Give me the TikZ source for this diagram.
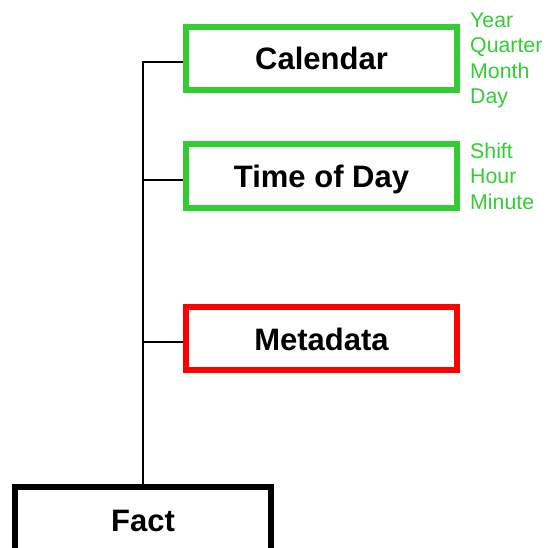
\documentclass[tikz,border=0pt]{standalone}
\usepackage{fontspec}
\setmainfont{Liberation Sans}
\definecolor{dimgreen}{RGB}{50,205,50}
\tikzset{
  boxlabel/.style={font=\fontsize{31}{34}\selectfont\bfseries, text height=23pt, text depth=0pt},
  dimbox/.style={draw=dimgreen, line width=6pt, rectangle, inner sep=0pt,
    minimum width=271pt, minimum height=63pt, boxlabel},
  metabox/.style={dimbox, draw=red},
  factbox/.style={draw=black, line width=5.5pt, rectangle, inner sep=0pt,
    minimum width=256pt, minimum height=66pt, boxlabel},
  attrlist/.style={anchor=north west, inner sep=0pt, text=dimgreen, align=left,
    font=\fontsize{21.3}{25.5}\selectfont},
  link/.style={draw=black, line width=2pt}
}
\begin{document}
\begin{tikzpicture}[x=1pt,y=-1pt]
  \useasboundingbox (0,0) rectangle (546,548);
  % dimension and fact tables
  \node[dimbox]  (cal)  at (321.5,58.5) {Calendar};
  \node[dimbox]  (tod)  at (321.5,176)  {Time of Day};
  \node[metabox] (meta) at (321.5,338.5) {Metadata};
  \node[factbox] (fact) at (143,520)    {Fact};
  % attribute lists
  \node[attrlist] (calattr) at (470,12.5) {Year\\Quarter\\Month\\Day};
  \node[attrlist] (todattr) at (470,142.5) {Shift\\Hour\\Minute};
  % tree of links from the fact table
  \coordinate (trunk) at (fact.north |- 0,62.3);
  \draw[link] (fact.north) -- (trunk) -- ([yshift=-3.8pt]cal.west);
  \draw[link] (fact.north) |- ([yshift=-3.8pt]tod.west);
  \draw[link] (fact.north) |- ([yshift=-3.8pt]meta.west);
\end{tikzpicture}
\end{document}
